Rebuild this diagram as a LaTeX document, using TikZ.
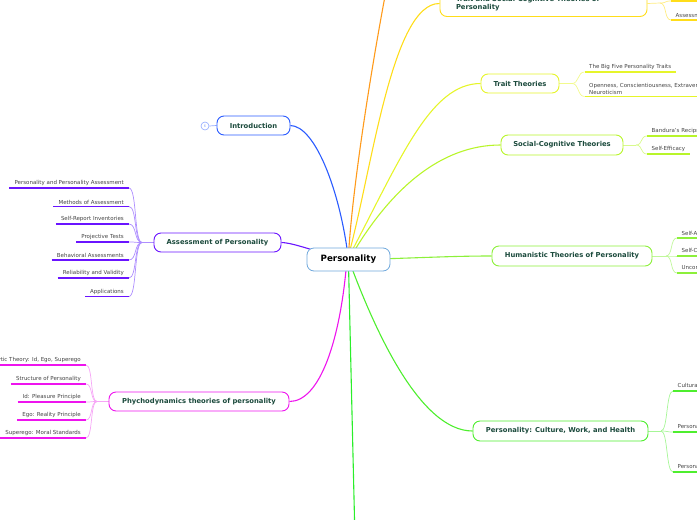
\documentclass[tikz,border=0pt]{standalone}
\usepackage{fontspec}
\setmainfont{DejaVu Sans}
\usetikzlibrary{backgrounds}
\definecolor{cCenter}{HTML}{6FA8DC}
\definecolor{cText}{HTML}{1B4A3C}
\definecolor{cLeaf}{HTML}{444444}
\definecolor{cBlue}{HTML}{2A5BFF}
\definecolor{cBlueL}{HTML}{8FA8FF}
\definecolor{cPurple}{HTML}{6A14FF}
\definecolor{cPurpleL}{HTML}{AE8EFF}
\definecolor{cMag}{HTML}{EE14EE}
\definecolor{cMagL}{HTML}{F6A6F6}
\definecolor{cOrange}{HTML}{FF9A1A}
\definecolor{cGold}{HTML}{FFDD1A}
\definecolor{cGoldL}{HTML}{FFEC80}
\definecolor{cYel}{HTML}{E6F52A}
\definecolor{cYelL}{HTML}{F2FA8C}
\definecolor{cYG}{HTML}{B8F52A}
\definecolor{cYGL}{HTML}{D8FA8C}
\definecolor{cLG}{HTML}{8CF03A}
\definecolor{cLGL}{HTML}{C0F79A}
\definecolor{cG}{HTML}{4EEE2E}
\definecolor{cGL}{HTML}{A6F696}
\definecolor{cBG}{HTML}{2AEE2A}
\begin{document}
\begin{tikzpicture}[x=1pt,y=-1pt,
  topic/.style={draw, fill=white, rounded corners=7pt, line width=0.9pt,
    font=\bfseries\fontsize{6.8}{8}\selectfont, text=cText, inner sep=0pt, align=center},
  central/.style={draw=cCenter, fill=white, rounded corners=7pt, line width=0.8pt,
    font=\bfseries\fontsize{8.7}{10}\selectfont, text=black, inner sep=0pt,
    minimum width=83pt, minimum height=23pt},
  leafL/.style={anchor=south east, font=\fontsize{5.5}{6.5}\selectfont, text=cLeaf,
    inner xsep=5pt, inner ysep=2pt},
  leafR/.style={anchor=south west, font=\fontsize{5.5}{6.5}\selectfont, text=cLeaf,
    inner xsep=4.5pt, inner ysep=2pt, align=left},
  uline/.style={line width=1.4pt},
  conn/.style={line width=1.1pt},
  forkline/.style={line width=0.7pt},
]
\useasboundingbox (0,0) rectangle (697,520);
\clip (0,0) rectangle (697,520);

% ---------- nodes ----------
\node[central] (P) at (348.5,259.5) {Personality};

\node[topic, draw=cBlue, minimum width=73pt, minimum height=19pt] (intro) at (253.5,125.5) {Introduction};
\node[circle, draw=cBlueL, line width=0.6pt, fill=white, minimum size=8pt, inner sep=0pt,
  font=\fontsize{3.5}{4}\selectfont, text=cBlueL] (collapse) at (205,126) {6};

\node[topic, draw=cPurple, minimum width=127pt, minimum height=19pt] (asmt) at (217.5,242.5) {Assessment of Personality};
\node[topic, draw=cMag, minimum width=180pt, minimum height=19pt] (psy) at (199,401.5) {Phychodynamics theories of personality};

\node[topic, draw=cGold, minimum width=207pt, minimum height=26pt, text width=175pt, align=left,
  font=\bfseries\fontsize{6.8}{8}\selectfont] (ts) at (543.5,3.5) {Trait and Social-Cognitive Theories of\\Personality};
\node[topic, draw=cYel, minimum width=78pt, minimum height=19pt] (trait) at (520,83.5) {Trait Theories};
\node[topic, draw=cYG, minimum width=122pt, minimum height=20pt] (soc) at (562,145) {Social-Cognitive Theories};
\node[topic, draw=cLG, minimum width=160pt, minimum height=20pt] (hum) at (572,256) {Humanistic Theories of Personality};
\node[topic, draw=cG, minimum width=175pt, minimum height=20pt] (cul) at (560.5,431) {Personality: Culture, Work, and Health};

\coordinate (orangeend) at (392,-40);
\coordinate (bottomend) at (355,540);

% left leaves: Assessment
\coordinate (fA) at (142,242.5);
\node[leafL] (a1) at (129,188) {Personality and Personality Assessment};
\node[leafL] (a2) at (129,206.5) {Methods of Assessment};
\node[leafL] (a3) at (129,224) {Self-Report Inventories};
\node[leafL] (a4) at (129,242) {Projective Tests};
\node[leafL] (a5) at (129,260) {Behavioral Assessments};
\node[leafL] (a6) at (129,278) {Reliability and Validity};
\node[leafL] (a7) at (129,296.5) {Applications};

% left leaves: Psychodynamic
\coordinate (fP) at (97,401.5);
\node[leafL] (p1) at (86,365) {Psychoanalytic Theory: Id, Ego, Superego};
\node[leafL] (p2) at (86,384) {Structure of Personality};
\node[leafL] (p3) at (86,402) {Id: Pleasure Principle};
\node[leafL] (p4) at (86,420) {Ego: Reality Principle};
\node[leafL] (p5) at (86,438) {Superego: Moral Standards};

% right leaves
\coordinate (fTS) at (660,3);
\node[leafR] (ts1) at (671,1) {Trait Approaches};
\node[leafR] (ts2) at (671,20) {Assessment of Traits};

\coordinate (fT) at (572,83.5);
\node[leafR] (t1) at (584.5,72) {The Big Five Personality Traits};
\node[leafR] (t2) at (584.5,96.5) {Openness, Conscientiousness, Extraversion, Agreeableness,\\Neuroticism};

\coordinate (fS) at (636,145);
\node[leafR] (s1) at (647,136) {Bandura's Reciprocal Determinism};
\node[leafR] (s2) at (647,154) {Self-Efficacy};

\coordinate (fH) at (666,256);
\node[leafR] (h1) at (677,238) {Self-Actualization};
\node[leafR] (h2) at (677,256) {Self-Concept};
\node[leafR] (h3) at (677,273) {Unconditional Positive Regard};

\coordinate (fC) at (661,431);
\node[leafR] (c1) at (673,391) {Cultural Influences on Personality};
\node[leafR] (c2) at (673,432) {Personality in the Workplace};
\node[leafR] (c3) at (673,472) {Personality and Health};

% ---------- connectors ----------
\begin{pgfonlayer}{background}
% main branches
\draw[conn, cOrange] (P.center) ++(0,-4) .. controls (352,190) and (372,60) .. (orangeend);
\draw[conn, cGold] (P.center) ++(0,-4) .. controls (372,170) and (392,3) .. (ts.west);
\draw[conn, cYel] (P.center) ++(1,-4) .. controls (400,160) and (430,83.5) .. (trait.west);
\draw[conn, cYG] (P.center) ++(3,-4) .. controls (390,190) and (440,145) .. (soc.west);
\draw[conn, cLG] (P.center) ++(10,0) .. controls (420,258) and (450,256) .. (hum.west);
\draw[conn, cG] (P.center) ++(2,5) .. controls (375,330) and (420,431) .. (cul.west);
\draw[conn, cBG] (P.center) ++(0,5) -- (bottomend);
\draw[conn, cMag] (P.center) ++(-2,5) .. controls (340,340) and (320,401.5) .. (psy.east);
\draw[conn, cBlue] (intro.east) .. controls (315,126) and (340,190) .. (P.center);
\draw[conn, cPurple] (asmt.east) .. controls (295,243) and (315,252) .. (P.center);
\draw[line width=0.7pt, cBlueL] (collapse.east) -- (intro.west);

% Assessment sub-branches
\draw[forkline, cPurpleL] (asmt.west) -- (fA);
\foreach \n in {a1,a2,a3,a4,a5,a6,a7}{
  \draw[forkline, cPurpleL] (fA) .. controls +(-8,0) and ([xshift=8pt]\n.south east) .. (\n.south east);
  \draw[uline, cPurple] (\n.south west) -- (\n.south east);
}
% Psychodynamic sub-branches
\draw[forkline, cMagL] (psy.west) -- (fP);
\foreach \n in {p1,p2,p3,p4,p5}{
  \draw[forkline, cMagL] (fP) .. controls +(-7,0) and ([xshift=7pt]\n.south east) .. (\n.south east);
  \draw[uline, cMag] (\n.south west) -- (\n.south east);
}
% right sub-branches
\draw[forkline, cGoldL] (ts.east) -- (fTS);
\foreach \n in {ts1,ts2}{
  \draw[forkline, cGoldL] (fTS) .. controls +(7,0) and ([xshift=-7pt]\n.south west) .. (\n.south west);
  \draw[uline, cGold] (\n.south west) -- (\n.south east);
}
\draw[forkline, cYelL] (trait.east) -- (fT);
\foreach \n in {t1,t2}{
  \draw[forkline, cYelL] (fT) .. controls +(7,0) and ([xshift=-7pt]\n.south west) .. (\n.south west);
  \draw[uline, cYel] (\n.south west) -- (\n.south east);
}
\draw[forkline, cYGL] (soc.east) -- (fS);
\foreach \n in {s1,s2}{
  \draw[forkline, cYGL] (fS) .. controls +(7,0) and ([xshift=-7pt]\n.south west) .. (\n.south west);
  \draw[uline, cYG] (\n.south west) -- (\n.south east);
}
\draw[forkline, cLGL] (hum.east) -- (fH);
\foreach \n in {h1,h2,h3}{
  \draw[forkline, cLGL] (fH) .. controls +(7,0) and ([xshift=-7pt]\n.south west) .. (\n.south west);
  \draw[uline, cLG] (\n.south west) -- (\n.south east);
}
\draw[forkline, cGL] (cul.east) -- (fC);
\foreach \n in {c1,c2,c3}{
  \draw[forkline, cGL] (fC) .. controls +(7,0) and ([xshift=-7pt]\n.south west) .. (\n.south west);
  \draw[uline, cG] (\n.south west) -- (\n.south east);
}
\end{pgfonlayer}
\end{tikzpicture}
\end{document}
